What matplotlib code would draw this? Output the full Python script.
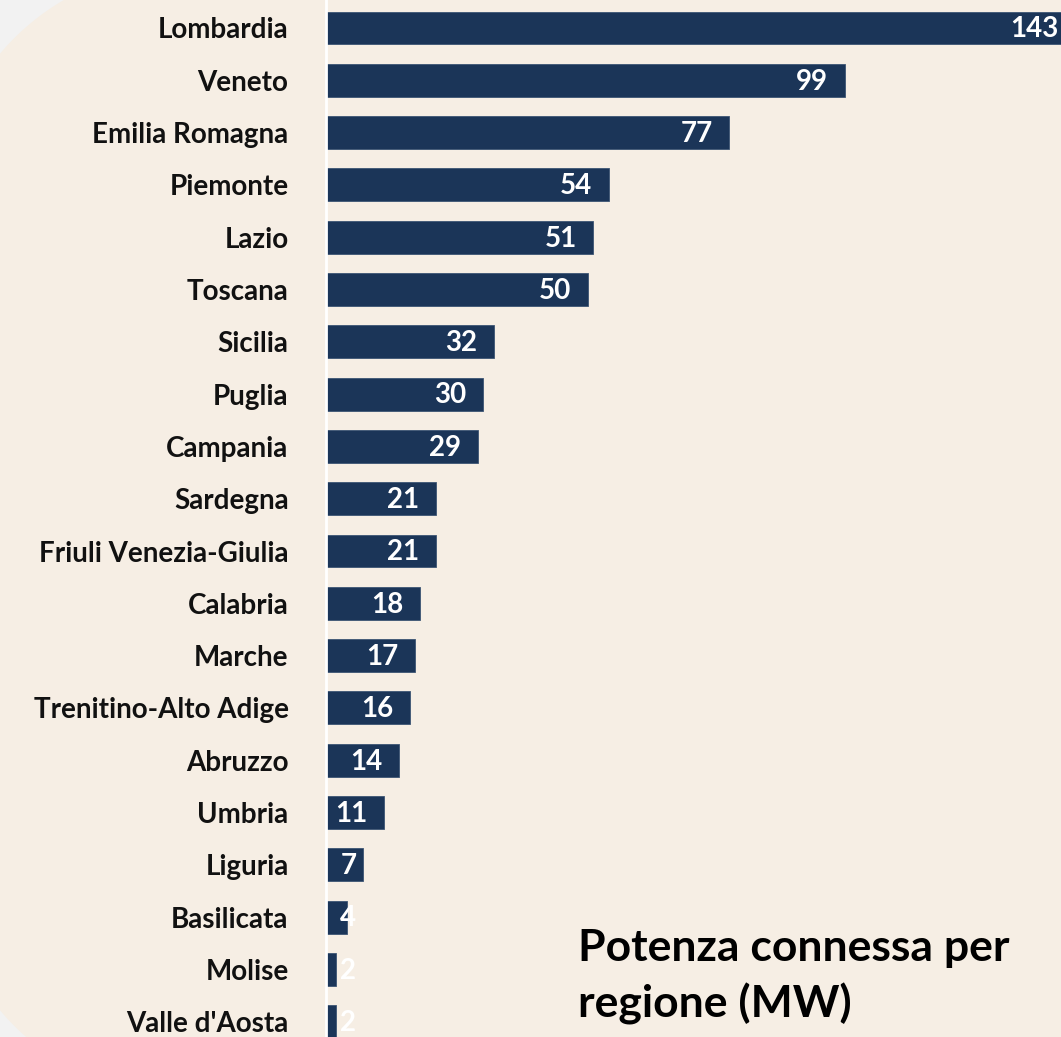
import matplotlib
matplotlib.use("Agg")
import numpy as np
import matplotlib.pyplot as plt
from matplotlib.patches import Polygon
from matplotlib.transforms import IdentityTransform

regions = [
    "Lombardia", "Veneto", "Emilia Romagna", "Piemonte", "Lazio", "Toscana",
    "Sicilia", "Puglia", "Campania", "Sardegna", "Friuli Venezia-Giulia",
    "Calabria", "Marche", "Trenitino-Alto Adige", "Abruzzo", "Umbria",
    "Liguria", "Basilicata", "Molise", "Valle d'Aosta",
]
power_mw = [143, 99, 77, 54, 51, 50, 32, 30, 29, 21, 21, 18, 17, 16, 14, 11, 7, 4, 2, 2]
title = "Potenza connessa per\nregione (MW)"

bg = "#f6eee4"
bar_color = "#1b3558"

plt.rcParams["font.family"] = ["Lato", "DejaVu Sans"]

W, H = 1061, 1037
fig = plt.figure(figsize=(W / 100, H / 100), dpi=100)
fig.patch.set_facecolor(bg)

# grey corners outside the rounded beige panel (pixel coords, origin bottom-left)
R = 243
t = np.linspace(np.pi / 2, np.pi, 80)
top_arc = np.column_stack([186 + R * np.cos(t), (H - 210) + R * np.sin(t)])
corner_tl = np.vstack([top_arc, [[-5, H + 5]]])
t = np.linspace(np.pi, 1.5 * np.pi, 80)
bot_arc = np.column_stack([186 + R * np.cos(t), (H - 854) + R * np.sin(t)])
corner_bl = np.vstack([bot_arc, [[-5, -5]]])
for pts in (corner_tl, corner_bl):
    fig.patches.append(Polygon(pts, closed=True, transform=IdentityTransform(),
                               facecolor="#f2f2f2", edgecolor="none", zorder=-5))

ax = fig.add_axes([326 / W, 0, 1 - 326 / W, 1])
ax.set_facecolor("none")

y = list(range(len(regions)))
ax.barh(y, power_mw, height=0.63, color=bar_color, edgecolor="#3c5574", linewidth=0.6)

ax.set_xlim(0, (W - 326) / 5.24)
ax.set_ylim((H - 28) / 52.3, -28 / 52.3)

ax.set_yticks(y)
ax.set_yticklabels(regions, fontsize=20, fontweight="bold", color="#111111")
ax.tick_params(axis="y", length=0, pad=27)
ax.set_xticks([])

for s in ["top", "right", "bottom"]:
    ax.spines[s].set_visible(False)
ax.spines["left"].set_color("white")
ax.spines["left"].set_linewidth(2)

for yi, v in zip(y, power_mw):
    ax.annotate(str(v), (max(v, 9), yi), xytext=(-12, -1), textcoords="offset points",
                ha="right", va="center", color="white", fontsize=20, fontweight="bold",
                annotation_clip=False)

fig.text(578 / W, 1 - 928 / H, title, ha="left", va="top", fontsize=32,
         fontweight="bold", color="black", linespacing=1.42)

fig.savefig("out.png", dpi=100, facecolor=fig.get_facecolor())
